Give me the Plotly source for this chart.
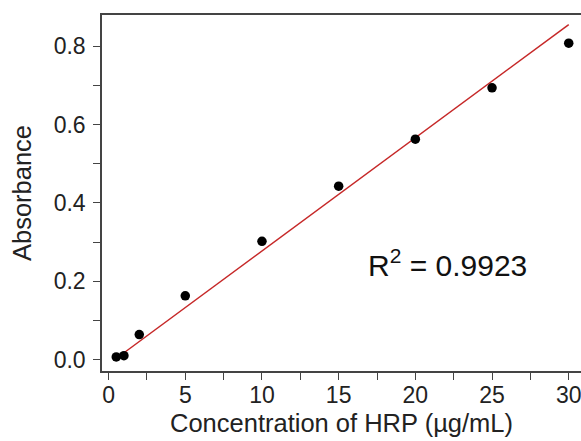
import plotly.graph_objects as go
import numpy as np

conc = [0.5, 1, 2, 5, 10, 15, 20, 25, 30]
absorb = [0.007, 0.010, 0.064, 0.163, 0.302, 0.443, 0.563, 0.694, 0.808]
fit_slope = 0.0289
fit_intercept = -0.0115
r2_text = "R<sup>2</sup> = 0.9923"

fit_x = np.array([min(conc), max(conc)])
fit_y = fit_slope * fit_x + fit_intercept

font = "Liberation Sans, Arial, sans-serif"
axcol = "#444444"

fig = go.Figure()
fig.add_trace(go.Scatter(x=fit_x, y=fit_y, mode="lines",
                         line=dict(color="#C62828", width=1.5), showlegend=False))
fig.add_trace(go.Scatter(x=conc, y=absorb, mode="markers",
                         marker=dict(color="black", size=9.5), showlegend=False))

fig.add_annotation(x=22.1, y=0.248, xref="x", yref="y", text=r2_text, showarrow=False,
                   font=dict(family=font, size=30, color="#111111"))

fig.update_layout(
    width=581, height=441,
    margin=dict(l=102, r=0, t=15, b=70),
    paper_bgcolor="white", plot_bgcolor="white",
    font=dict(family=font, color="#222222"),
    xaxis=dict(range=[-0.43, 30.8], tickvals=[0, 5, 10, 15, 20, 25, 30],
               ticks="outside", ticklen=7, tickwidth=1.2, tickcolor=axcol,
               minor=dict(tickvals=[2.5, 7.5, 12.5, 17.5, 22.5, 27.5], ticks="outside",
                          ticklen=7, tickcolor=axcol, tickwidth=1.2),
               showline=True, linecolor=axcol, linewidth=1.5, mirror=True,
               showgrid=False, zeroline=False,
               tickfont=dict(size=23), ticklabelstandoff=-4, ticklabeloverflow="allow",
               title=dict(text="Concentration of HRP (µg/mL)", font=dict(size=25.5), standoff=7)),
    yaxis=dict(range=[-0.029, 0.88], tickvals=[0, 0.2, 0.4, 0.6, 0.8],
               ticktext=["0.0", "0.2", "0.4", "0.6", "0.8"],
               ticks="outside", ticklen=7, tickwidth=1.2, tickcolor=axcol,
               minor=dict(tickvals=[0.1, 0.3, 0.5, 0.7], ticks="outside",
                          ticklen=7, tickcolor=axcol, tickwidth=1.2),
               showline=True, linecolor=axcol, linewidth=1.5,
               showgrid=False, zeroline=False,
               tickfont=dict(size=23), ticklabelstandoff=3,
               title=dict(text="Absorbance", font=dict(size=25.5), standoff=15)),
)

fig.write_html("out.html", config={"displayModeBar": False},
               post_script="document.body.style.margin='0';document.body.style.overflow='hidden';")
